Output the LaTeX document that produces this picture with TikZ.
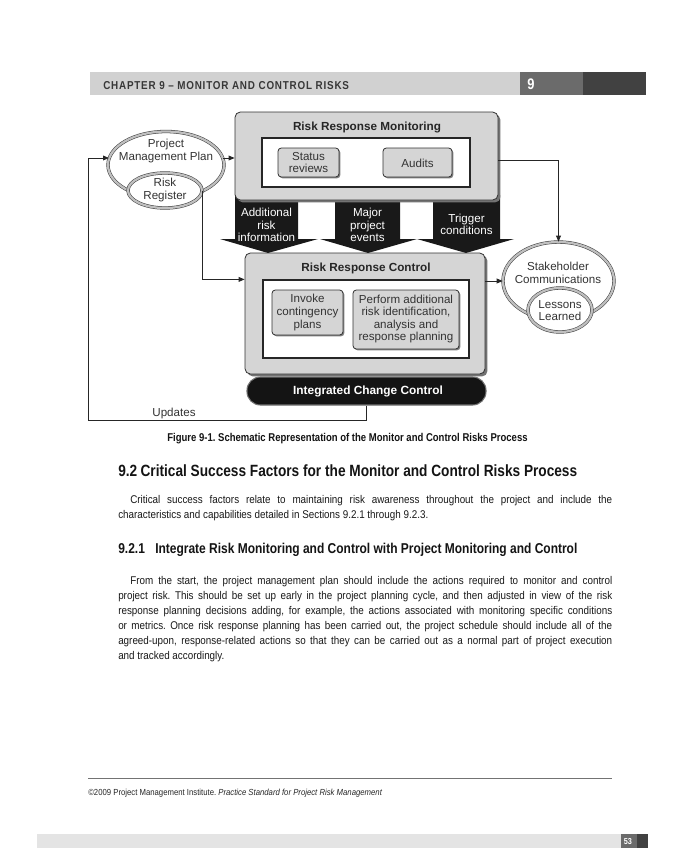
\documentclass[tikz,border=0pt]{standalone}
\usepackage{fontspec}
\usetikzlibrary{arrows.meta,shapes.geometric,shadows}
\newfontfamily\dia{Liberation Sans}
\newfontfamily\bodyf{Liberation Sans}[FakeStretch=0.88]
\newfontfamily\headf{Liberation Sans}[FakeStretch=0.84]
\newfontfamily\hdrf{Liberation Sans}[FakeStretch=0.86,LetterSpace=7]
\definecolor{boxgray}{HTML}{D5D5D5}
\definecolor{hdrlight}{HTML}{D1D1D1}
\definecolor{hdrmid}{HTML}{6B6B6B}
\definecolor{hdrdark}{HTML}{414141}
\definecolor{barlight}{HTML}{E4E4E4}
\frenchspacing
\begin{document}
\begin{tikzpicture}[x=0.75pt,y=-0.75pt,
  gbox/.style={draw=black!80, line width=0.6pt, fill=boxgray, rounded corners=4pt,
    drop shadow={shadow xshift=1.8pt,shadow yshift=-1.8pt,fill=black!55,opacity=1}},
  sbox/.style={draw=black!80, line width=0.6pt, fill=boxgray, rounded corners=2.5pt,
    drop shadow={shadow xshift=1pt,shadow yshift=-1pt,fill=black!50,opacity=1}},
  wbox/.style={draw=black!85, line width=0.9pt, fill=white},
  ell/.style={ellipse, draw=black!75, line width=0.4pt, double=black!25, double distance=1.7pt, fill=white, inner sep=0pt},
  dtext/.style={font=\dia\fontsize{8.7}{9.4}\selectfont, text=black!80, align=center, inner sep=0pt},
  dbold/.style={font=\dia\bfseries\fontsize{8.8}{10}\selectfont, text=black!85, align=center, inner sep=0pt},
  wtext/.style={font=\dia\fontsize{8.7}{9.2}\selectfont, text=white, align=center, inner sep=0pt},
  barrow/.style={fill=black!90, draw=none},
  conn/.style={draw=black!85, line width=0.6pt},
  arr/.style={conn, -{Triangle[length=4.5pt,width=3.6pt]}},
  bodytxt/.style={font=\bodyf\fontsize{8.4}{11}\selectfont\frenchspacing, text=black!90, inner sep=0pt, anchor=base west},
]
\useasboundingbox (0,0) rectangle (684,864);
\fill[white] (0,0) rectangle (684,864);

% ---------- header ----------
\fill[hdrlight] (90,72) rectangle (520,95);
\fill[hdrmid] (520,72) rectangle (583,95);
\fill[hdrdark] (583,72) rectangle (646,95);
\node[font=\hdrf\bfseries\fontsize{8.6}{10}\selectfont, text=black!78, anchor=base west, inner sep=0pt] (hdr) at (103,89) {CHAPTER 9 – MONITOR AND CONTROL RISKS};
\node[font=\headf\bfseries\fontsize{11.5}{12}\selectfont, text=white, anchor=base west, inner sep=0pt] (chnum) at (527,89) {9};

% ---------- black arrows ----------
\fill[barrow] (235,195) -- (298,195) -- (298,239) -- (318,239) -- (268,253) -- (220,239) -- (235,239) -- cycle;
\fill[barrow] (335,195) -- (400,195) -- (400,239) -- (417,239) -- (368,253) -- (320,239) -- (335,239) -- cycle;
\fill[barrow] (433,195) -- (500,195) -- (500,239) -- (514,239) -- (466,253) -- (417,239) -- (433,239) -- cycle;
\node[wtext] (a1) at (266.5,225) {Additional\\risk\\information};
\node[wtext] (a2) at (367.5,225) {Major\\project\\events};
\node[wtext] (a3) at (466.5,224) {Trigger\\conditions};

% ---------- Risk Response Monitoring ----------
\node[gbox, minimum width=197.25pt, minimum height=66pt] (mon) at (366.5,156) {};
\node[dbold] (montitle) at (367,127) {Risk Response Monitoring};
\node[wbox, minimum width=156pt, minimum height=36.75pt] (monin) at (366,162.5) {};
\node[sbox, minimum width=45.75pt, minimum height=21.75pt] (status) at (308.5,162.5) {};
\node[dtext] (statust) at (308.5,162.5) {Status\\reviews};
\node[sbox, minimum width=51.75pt, minimum height=21.75pt] (audits) at (417.5,162.5) {};
\node[dtext] (auditst) at (417.5,163) {Audits};

% ---------- Risk Response Control ----------
\node[gbox, minimum width=180pt, minimum height=90.75pt] (ctrl) at (365,313.5) {};
\node[dbold] (ctrltitle) at (366,268) {Risk Response Control};
\node[wbox, minimum width=154.5pt, minimum height=58.5pt] (ctrlin) at (366,319) {};
\node[sbox, minimum width=53.25pt, minimum height=33.75pt] (invoke) at (307.5,312.5) {};
\node[dtext] (invoket) at (307.5,312.5) {Invoke\\contingency\\plans};
\node[sbox, minimum width=79.5pt, minimum height=44.25pt] (perform) at (406,319.5) {};
\node[dtext] (performt) at (406,319) {Perform additional\\risk identification,\\analysis and\\response planning};

% ---------- Integrated Change Control ----------
\node[draw=black!55, line width=0.8pt, fill=black!92, rounded corners=10pt, minimum width=179.25pt, minimum height=21pt] (icc) at (366.5,391) {};
\node[font=\dia\bfseries\fontsize{8.9}{10}\selectfont, text=white, inner sep=0pt] (icct) at (368,391) {Integrated Change Control};

% ---------- ellipses ----------
\node[ell, minimum width=87pt, minimum height=50.25pt] (pmp) at (166,165) {};
\node[dtext] (pmpt) at (166,151) {Project\\Management Plan};
\node[ell, minimum width=55.5pt, minimum height=26.25pt] (rr) at (165,190.5) {};
\node[dtext] (rrt) at (165,190) {Risk\\Register};

\node[ell, minimum width=83.25pt, minimum height=58.5pt] (sh) at (558.5,281) {};
\node[dtext] (sht) at (558,273) {Stakeholder\\Communications};
\node[ell, minimum width=48pt, minimum height=33pt] (ll) at (560,310) {};
\node[dtext] (llt) at (560,310.5) {Lessons\\Learned};

% ---------- connectors ----------
\coordinate (updc) at (88,420);
\draw[arr] (icc.south) |- (updc) |- (pmp.173);
\node[dtext, anchor=center] (updt) at (174,413) {Updates};
\draw[arr] (pmp.7) -- (mon.west |- pmp.7);
\draw[arr] (rr.east) |- (ctrl.west |- ctrlin.north);
\draw[arr] ([yshift=-3pt]mon.east) -| (sh.north);
\draw[arr] (ctrl.east |- sh.west) -- (sh.west);

% ---------- caption ----------
\node[font=\headf\bfseries\fontsize{8.5}{10}\selectfont, text=black!92, inner sep=0pt, anchor=base] (cap) at (347.5,441.5) {Figure 9-1. Schematic Representation of the Monitor and Control Risks Process};

% ---------- body ----------
\node[font=\headf\bfseries\fontsize{12.2}{14}\selectfont, text=black!92, inner sep=0pt, anchor=base west] (h1) at (118,476.5) {9.2\hspace{2.5pt}Critical Success Factors for the Monitor and Control Risks Process};
\node[bodytxt] (p1a) at (130,503) {\makebox[361.5pt][s]{Critical success factors relate to maintaining risk awareness throughout the project and include the}};
\node[bodytxt] (p1b) at (118,518) {characteristics and capabilities detailed in Sections 9.2.1 through 9.2.3.};

\node[font=\headf\bfseries\fontsize{10.7}{12}\selectfont, text=black!92, inner sep=0pt, anchor=base west] (h2n) at (118,553) {9.2.1};
\node[font=\headf\bfseries\fontsize{10.7}{12}\selectfont, text=black!92, inner sep=0pt, anchor=base west] (h2) at (155,553) {Integrate Risk Monitoring and Control with Project Monitoring and Control};

\node[bodytxt] (p2a) at (130,584) {\makebox[361.5pt][s]{From the start, the project management plan should include the actions required to monitor and control}};
\node[bodytxt] (p2b) at (118,599) {\makebox[370.5pt][s]{project risk. This should be set up early in the project planning cycle, and then adjusted in view of the risk}};
\node[bodytxt] (p2c) at (118,614) {\makebox[370.5pt][s]{response planning decisions adding, for example, the actions associated with monitoring specific conditions}};
\node[bodytxt] (p2d) at (118,629) {\makebox[370.5pt][s]{or metrics. Once risk response planning has been carried out, the project schedule should include all of the}};
\node[bodytxt] (p2e) at (118,644) {\makebox[370.5pt][s]{agreed-upon, response-related actions so that they can be carried out as a normal part of project execution}};
\node[bodytxt] (p2f) at (118,659) {and tracked accordingly.};

% ---------- footer ----------
\draw[draw=black!55, line width=0.6pt] (88,778) -- (612,778);
\node[font=\bodyf\fontsize{6.6}{7}\selectfont, text=black!85, inner sep=0pt, anchor=base west] (foot) at (88,795) {©2009 Project Management Institute. \textit{Practice Standard for Project Risk Management}};
\fill[barlight] (37,834) rectangle (621,848);
\fill[hdrmid] (621,834) rectangle (637,848);
\fill[hdrdark] (637,834) rectangle (648,848);
\node[font=\headf\bfseries\fontsize{6.5}{7}\selectfont, text=white, inner sep=0pt, anchor=base west] (pg) at (623.5,844.5) {53};
\end{tikzpicture}
\end{document}
